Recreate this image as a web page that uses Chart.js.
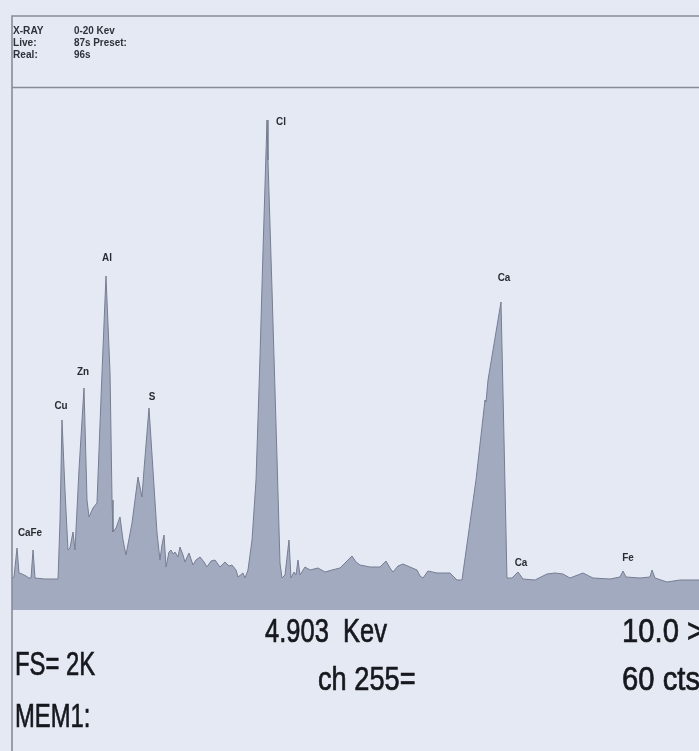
<!DOCTYPE html>
<html>
<head>
<meta charset="utf-8">
<script src="https://cdn.jsdelivr.net/npm/chart.js@4.4.1/dist/chart.umd.min.js"></script>
<style>
  html, body { margin: 0; padding: 0; background: #e4e9f3; overflow: hidden; }
  #wrap { position: absolute; left: 0; top: 0; width: 699px; height: 751px; }
</style>
</head>
<body>
<div id="wrap"><canvas id="c" width="699" height="751"></canvas></div>
<script>
// ---- Spectrum data (energy in keV, counts) ----
const energyKeV = [
  0.000, 0.029, 0.073, 0.102, 0.146, 0.204, 0.247, 0.277, 0.306, 0.335,
  0.480, 0.670, 0.699, 0.728, 0.771, 0.815, 0.844, 0.888, 0.917, 0.975,
  1.048, 1.092, 1.121, 1.179, 1.237, 1.310, 1.368, 1.427, 1.456, 1.470,
  1.514, 1.572, 1.616, 1.659, 1.747, 1.834, 1.892, 1.921, 1.994, 2.052,
  2.111, 2.154, 2.183, 2.213, 2.242, 2.285, 2.314, 2.344, 2.373, 2.416,
  2.445, 2.489, 2.518, 2.576, 2.635, 2.678, 2.737, 2.795, 2.838, 2.897,
  2.955, 3.028, 3.100, 3.159, 3.202, 3.261, 3.290, 3.362, 3.392, 3.435,
  3.494, 3.552, 3.610, 3.654, 3.683, 3.712, 3.726, 3.785, 3.857, 3.901,
  3.930, 3.974, 4.032, 4.061, 4.105, 4.134, 4.163, 4.192, 4.265, 4.338,
  4.454, 4.556, 4.658, 4.774, 4.862, 4.949, 5.007, 5.066, 5.211, 5.357,
  5.444, 5.502, 5.546, 5.619, 5.691, 5.793, 5.895, 5.939, 5.983, 6.055,
  6.186, 6.376, 6.477, 6.550, 6.754, 6.885, 6.900, 6.929, 7.118, 7.162,
  7.205, 7.278, 7.365, 7.438, 7.613, 7.787, 7.904, 8.020, 8.122, 8.311,
  8.457, 8.705, 8.850, 8.894, 8.937, 9.141, 9.287, 9.316, 9.360, 9.534,
  9.724, 10.000
];
const counts = [
  128, 132, 248, 148, 144, 136, 128, 128, 240, 128,
  124, 124, 360, 760, 480, 240, 248, 312, 240, 560,
  888, 440, 372, 408, 428, 948, 1336, 948, 440, 312,
  328, 372, 280, 220, 348, 532, 452, 560, 808, 560,
  308, 200, 260, 300, 172, 232, 240, 224, 232, 212,
  252, 220, 192, 228, 180, 200, 212, 192, 172, 196,
  200, 172, 192, 176, 180, 160, 132, 148, 128, 160,
  280, 520, 1012, 1440, 1700, 1960, 1800, 1280, 612, 188,
  128, 140, 280, 128, 152, 140, 200, 140, 172, 160,
  168, 152, 160, 168, 192, 216, 192, 180, 172, 172,
  196, 168, 152, 176, 184, 172, 160, 136, 128, 156,
  148, 148, 120, 120, 520, 840, 832, 920, 1232, 680,
  128, 128, 152, 124, 120, 144, 148, 144, 128, 148,
  128, 124, 132, 156, 132, 128, 132, 160, 128, 112,
  120, 120
];

// ---- Peak labels (element, energy keV, label height in counts) ----
const peakNames  = ['CaFe', 'Cu', 'Zn', 'Al', 'S', 'Cl', 'Ca', 'Ca', 'Fe'];
const peakKeV    = [0.262, 0.713, 1.033, 1.383, 2.038, 3.916, 7.162, 7.409, 8.967];
const peakCounts = [308, 816, 952, 1408, 852, 1952, 1328, 188, 208];

// ---- Instrument texts ----
const headerLabels = ['X-RAY', 'Live:', 'Real:'];
const headerValues = ['0-20 Kev', '87s Preset:', '96s'];
const readoutTexts = ['4.903  Kev', 'FS= 2K', 'ch 255=', 'MEM1:', '10.0 >', '60 cts'];

// Scale settings
const keVMin = 0, keVMax = 10;
const countsMax = 2000;

function drawScaled(ctx, text, x, y, sx, stroke) {
  ctx.save();
  ctx.translate(x, y);
  ctx.scale(sx, 1);
  ctx.fillText(text, 0, 0);
  if (stroke) ctx.strokeText(text, 0, 0);
  ctx.restore();
}

const frame = {
  id: 'frame',
  afterDraw(chart) {
    const ctx = chart.ctx;
    const xs = chart.scales.x, ys = chart.scales.y;
    ctx.save();
    // frame lines
    ctx.strokeStyle = '#878c97';
    ctx.lineWidth = 1.6;
    ctx.beginPath();
    ctx.moveTo(12, 751); ctx.lineTo(12, 16); ctx.lineTo(699, 16);
    ctx.moveTo(12, 87.5); ctx.lineTo(699, 87.5);
    ctx.stroke();

    // header text
    ctx.fillStyle = '#2f323a';
    ctx.font = 'bold 11px "Liberation Sans", Arial, sans-serif';
    ctx.textBaseline = 'middle';
    ctx.textAlign = 'left';
    const hy = [31, 43, 55];
    for (let i = 0; i < headerLabels.length; i++) {
      drawScaled(ctx, headerLabels[i], 13, hy[i], 0.92);
      drawScaled(ctx, headerValues[i], 74, hy[i], 0.9);
    }

    // peak labels
    ctx.fillStyle = '#2a2c33';
    ctx.font = 'bold 11px "Liberation Sans", Arial, sans-serif';
    ctx.textAlign = 'center';
    ctx.textBaseline = 'middle';
    for (let i = 0; i < peakNames.length; i++) {
      const px = xs.getPixelForValue(peakKeV[i]);
      const py = ys.getPixelForValue(peakCounts[i]);
      ctx.save();
      ctx.translate(px, py);
      ctx.scale(0.9, 1);
      ctx.fillText(peakNames[i], 0, 0);
      ctx.restore();
    }

    // readout texts
    ctx.fillStyle = '#16181d';
    ctx.strokeStyle = '#16181d';
    ctx.lineWidth = 0.7;
    ctx.font = '34px "Liberation Sans", Arial, sans-serif';
    ctx.textAlign = 'left';
    ctx.textBaseline = 'alphabetic';
    const pos = [[265, 642], [15, 675], [318, 690], [15, 727], [622, 642], [622, 690]];
    const sx = [0.75, 0.70, 0.80, 0.70, 0.86, 0.86];
    for (let i = 0; i < readoutTexts.length; i++) {
      drawScaled(ctx, readoutTexts[i], pos[i][0], pos[i][1], sx[i], true);
    }
    ctx.restore();
  }
};

new Chart(document.getElementById('c'), {
  type: 'line',
  data: {
    datasets: [{
      data: energyKeV.map((e, i) => ({ x: e, y: counts[i] })),
      borderColor: '#767d92',
      borderWidth: 1,
      backgroundColor: '#a2aac0',
      fill: 'origin',
      pointRadius: 0,
      tension: 0
    }]
  },
  options: {
    responsive: false,
    devicePixelRatio: 1,
    animation: false,
    layout: { padding: { left: 12, top: 110, right: 0, bottom: 141 } },
    plugins: { legend: { display: false }, tooltip: { enabled: false } },
    scales: {
      x: { type: 'linear', min: keVMin, max: keVMax, display: false },
      y: { type: 'linear', min: 0, max: countsMax, display: false }
    }
  },
  plugins: [frame]
});
</script>
</body>
</html>
